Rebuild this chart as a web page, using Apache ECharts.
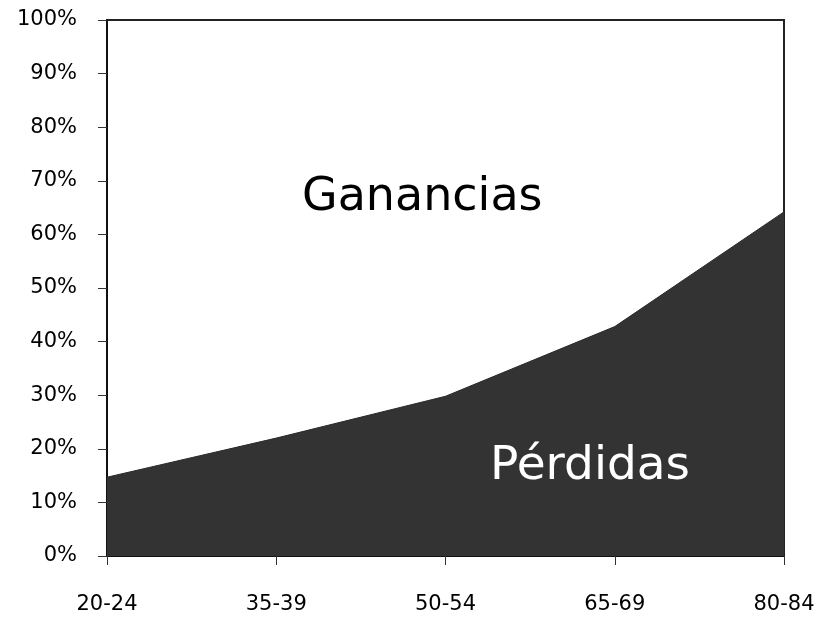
<!DOCTYPE html>
<html>
<head>
<meta charset="utf-8">
<style>
  html, body { margin: 0; padding: 0; background: #fff; }
  #main { width: 832px; height: 617px; }
</style>
<script src="https://cdn.jsdelivr.net/npm/echarts@6/dist/echarts.min.js"></script>
</head>
<body>
<div id="main"></div>
<script>
var ageGroups = ['20-24', '35-39', '50-54', '65-69', '80-84']
var lossShare = [14.7, 22.0, 29.8, 42.8, 64.2]
var yTicks = { min: 0, max: 100, step: 10 }

var font = '"Comic Sans MS", "DejaVu Sans", sans-serif'
var chart = echarts.init(document.getElementById('main'))

var option = {
  animation: false,
  backgroundColor: '#fff',
  grid: {
    left: 107, right: 48, top: 20, bottom: 61,
    show: true,
    borderColor: '#222',
    borderWidth: 2,
  },
  xAxis: {
    type: 'category',
    data: ageGroups,
    boundaryGap: false,
    axisLine: { lineStyle: { color: '#111', width: 2 } },
    axisTick: { show: true, length: 9, alignWithLabel: true, lineStyle: { color: '#333', width: 1 } },
    axisLabel: { margin: 38, color: '#000', fontSize: 21, fontFamily: font },
    splitLine: { show: false },
  },
  yAxis: {
    type: 'value',
    min: yTicks.min,
    max: yTicks.max,
    interval: yTicks.step,
    axisLine: { show: true, lineStyle: { color: '#111', width: 2 } },
    axisTick: { show: true, length: 9, lineStyle: { color: '#333', width: 1 } },
    axisLabel: { margin: 30, color: '#000', fontSize: 21, fontFamily: font, formatter: '{value}%' },
    splitLine: { show: false },
  },
  series: [
    {
      type: 'line',
      data: lossShare,
      symbol: 'none',
      lineStyle: { color: '#2a2a2a', width: 1 },
      areaStyle: { color: '#333333', opacity: 1 },
      z: 1,
    },
  ],
  graphic: [
    {
      type: 'text',
      z: 100,
      left: 302, top: 175,
      style: { text: 'Ganancias', font: '46px ' + font, fill: '#000' },
    },
    {
      type: 'text',
      z: 100,
      left: 490, top: 443,
      style: { text: 'Pérdidas', font: '47px ' + font, fill: '#fff' },
    },
  ],
}

chart.setOption(option)
</script>
</body>
</html>
